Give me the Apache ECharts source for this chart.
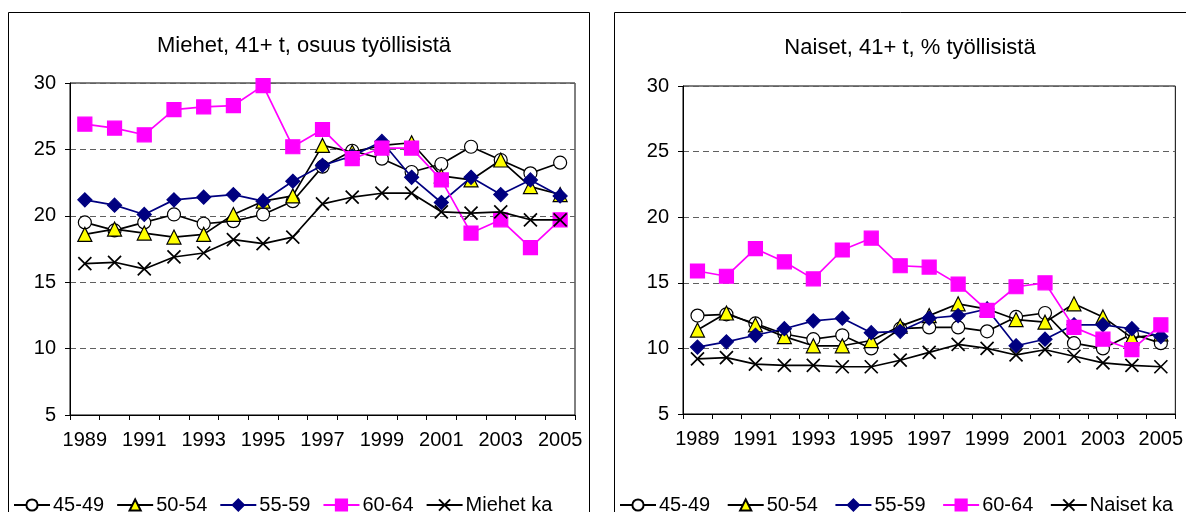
<!DOCTYPE html>
<html><head><meta charset="utf-8">
<script src="https://cdn.jsdelivr.net/npm/echarts@6/dist/echarts.min.js"></script>
<style>html,body{margin:0;padding:0;background:#fff}#c{width:1186px;height:512px}</style>
</head><body><div id="c"></div>
<script>
const years = ['1989','1990','1991','1992','1993','1994','1995','1996','1997','1998','1999','2000','2001','2002','2003','2004','2005'];
const seriesNames = ['45-49','50-54','55-59','60-64'];
const yTicks = {min:5, max:30, interval:5};

// Miehet (men)
const m4549 = [19.5,18.9,19.5,20.1,19.4,19.6,20.1,21.1,23.7,24.9,24.3,23.3,23.9,25.2,24.2,23.2,24.0];
const m5054 = [18.6,19.0,18.7,18.4,18.6,20.1,21.1,21.5,25.3,24.8,25.3,25.5,23.0,22.7,24.2,22.2,21.6];
const m5559 = [21.2,20.8,20.1,21.2,21.4,21.6,21.1,22.6,23.8,24.5,25.6,22.9,21.0,22.9,21.6,22.7,21.5];
const m6064 = [26.9,26.6,26.1,28.0,28.2,28.3,29.8,25.2,26.5,24.3,25.1,25.1,22.7,18.7,19.7,17.6,19.7];
const mKa   = [16.4,16.5,16.0,16.9,17.2,18.2,17.9,18.4,20.9,21.4,21.7,21.7,20.3,20.2,20.3,19.7,19.7];

// Naiset (women)
const n4549 = [12.5,12.6,11.9,11.1,10.7,11.0,10.0,11.5,11.6,11.6,11.3,12.4,12.7,10.4,10.0,11.1,10.4];
const n5054 = [11.4,12.7,11.8,10.9,10.2,10.2,10.6,11.7,12.5,13.4,13.0,12.2,12.0,13.4,12.4,10.8,11.1];
const n5559 = [10.1,10.5,11.0,11.5,12.1,12.3,11.2,11.3,12.3,12.5,13.0,10.2,10.7,11.8,11.8,11.5,10.9];
const n6064 = [15.9,15.5,17.6,16.6,15.3,17.5,18.4,16.3,16.2,14.9,12.9,14.7,15.0,11.6,10.7,9.9,11.8];
const nKa   = [9.2,9.3,8.8,8.7,8.7,8.6,8.6,9.1,9.7,10.3,10.0,9.5,9.9,9.4,8.9,8.7,8.6];

const FONT = 'Liberation Sans, Arial, sans-serif';
const crossPath = 'path://M0,0 L10,10 M10,0 L0,10';

function styles(i){
  return [
    {color:'#000', symbol:'circle', size:13, fill:'#fff'},
    {color:'#000', symbol:'triangle', size:14, fill:'#FFFF00'},
    {color:'#000080', symbol:'diamond', size:14, fill:'#000080'},
    {color:'#FF00FF', symbol:'rect', size:14, fill:'#FF00FF'},
    {color:'#000', symbol:crossPath, size:13, fill:'none'}
  ][i];
}
function mk(name, data, i, gi){
  const s = styles(i);
  return {
    name, type:'line', data, xAxisIndex:gi, yAxisIndex:gi,
    symbol:s.symbol, symbolSize:s.size, showAllSymbol:true,
    lineStyle:{color:s.color, width:1.7},
    itemStyle:{color:s.fill, borderColor: i===2||i===3 ? s.color : '#000', borderWidth: i===4?1.7:1.2},
    emphasis:{disabled:true}, animation:false, z: 2+i
  };
}
const xAxisBase = (gi)=>({
  type:'category', data:years, gridIndex:gi, boundaryGap:true,
  axisLine:{lineStyle:{color:'#000', width:1}},
  axisTick:{show:true, interval:0, length:5, lineStyle:{color:'#000'}},
  axisLabel:{interval:1, color:'#000', fontFamily:FONT, fontSize:20, margin:15}
});
const yAxisBase = (gi)=>({
  type:'value', gridIndex:gi, min:yTicks.min, max:yTicks.max, interval:yTicks.interval,
  axisLine:{show:true, lineStyle:{color:'#000', width:1}},
  axisTick:{show:true, length:5, lineStyle:{color:'#000'}},
  axisLabel:{color:'#000', fontFamily:FONT, fontSize:20, margin:14},
  splitLine:{show:true, lineStyle:{color:'#606060', type:[6,4], width:1}}
});
const legendBase = {
  orient:'horizontal', itemWidth:36, itemHeight:14, itemGap:12, width:800,
  textStyle:{color:'#000', fontFamily:FONT, fontSize:20, padding:[0,0,0,-2]}, selectedMode:false
};

const chart = echarts.init(document.getElementById('c'), null, {renderer:'canvas'});
chart.setOption({
  backgroundColor:'#fff',
  animation:false,
  title:[
    {text:'Miehet, 41+ t, osuus työllisistä', left:299, top:30, textAlign:'center',
     textStyle:{fontFamily:FONT, fontSize:22, fontWeight:'normal', color:'#000'}},
    {text:'Naiset, 41+ t, % työllisistä', left:905, top:32, textAlign:'center',
     textStyle:{fontFamily:FONT, fontSize:22, fontWeight:'normal', color:'#000'}}
  ],
  graphic:[
    {type:'rect', shape:{x:8.5, y:12.5, width:581, height:520}, style:{fill:'none', stroke:'#000', lineWidth:1}, z:-1},
    {type:'rect', shape:{x:614.5, y:12.5, width:600, height:520}, style:{fill:'none', stroke:'#000', lineWidth:1}, z:-1}
  ],
  grid:[
    {left:70, right:1186-575, top:83, bottom:512-415, show:true, borderColor:'#000', borderWidth:1, backgroundColor:'transparent'},
    {left:683, right:1186-1179, top:86, bottom:512-414, show:true, borderColor:'#000', borderWidth:1, backgroundColor:'transparent'}
  ],
  xAxis:[xAxisBase(0), xAxisBase(1)],
  yAxis:[yAxisBase(0), yAxisBase(1)],
  legend:[
    Object.assign({}, legendBase, {left:8, top:490, data:['45-49','50-54','55-59','60-64','Miehet ka']}),
    Object.assign({}, legendBase, {left:614, top:490, itemGap:11, data:['45-49 ','50-54 ','55-59 ','60-64 ','Naiset ka']})
  ],
  series:[
    mk('45-49', m4549, 0, 0), mk('50-54', m5054, 1, 0), mk('55-59', m5559, 2, 0), mk('60-64', m6064, 3, 0), mk('Miehet ka', mKa, 4, 0),
    mk('45-49 ', n4549, 0, 1), mk('50-54 ', n5054, 1, 1), mk('55-59 ', n5559, 2, 1), mk('60-64 ', n6064, 3, 1), mk('Naiset ka', nKa, 4, 1)
  ]
});
</script></body></html>
